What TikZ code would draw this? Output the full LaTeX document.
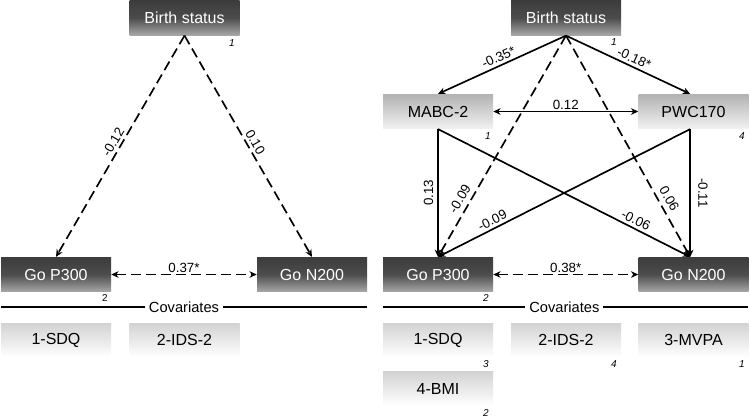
\documentclass[tikz,border=0pt]{standalone}
\usepackage{fontspec}
\setmainfont{Liberation Sans}
\usetikzlibrary{arrows.meta}
\definecolor{dkA}{HTML}{3C3C3C}
\definecolor{dkM}{HTML}{4C4C4C}
\definecolor{dkB}{HTML}{A8A8A8}
\definecolor{ltA}{HTML}{B2B2B2}
\definecolor{ltB}{HTML}{F2F2F2}
\definecolor{cvA}{HTML}{D2D2D2}
\definecolor{cvB}{HTML}{FFFFFF}
\begin{document}
\begin{tikzpicture}[x=0.75pt,y=-0.75pt,
  box/.style={minimum width=82.5pt,minimum height=26pt,inner sep=0pt,font=\fontsize{12}{14}\selectfont},
  dark/.style={box,text=white,shading=axis,top color=dkA,bottom color=dkB,middle color=dkM},
  light/.style={box,text=black,shading=axis,top color=ltA,bottom color=ltB},
  covbox/.style={box,text=black,minimum height=25.5pt,shading=axis,top color=cvA,bottom color=cvB},
  tip/.tip={Stealth[length=5.5pt,width=5pt]},
  arr/.style={line width=1.25pt,-tip},
  dsh/.style={arr,dash pattern=on 7.5pt off 3.75pt},
  both/.style={line width=1.25pt,tip-tip},
  lab/.style={font=\fontsize{10}{12}\selectfont,inner sep=2pt},
  num/.style={font=\fontsize{7.5}{9}\selectfont\itshape,inner sep=0pt},
  rule/.style={line width=1.25pt},
  covtxt/.style={font=\fontsize{11}{13}\selectfont,fill=white,inner sep=3pt}
]
\useasboundingbox (0,0) rectangle (750,418);

% ---------------- Left model ----------------
\node[dark] (bsL) at (184.5,18) {Birth status};
\node[dark] (p3L) at (56,274.5) {Go P300};
\node[dark] (n2L) at (312,274.5) {Go N200};
\node[covbox] (sdqL) at (56,340) {1-SDQ};
\node[covbox] (idsL) at (184.5,340) {2-IDS-2};
\node[num] (k1) at (232,43) {1};
\node[num,font=\fontsize{7.5}{9}\selectfont] (k2) at (105,298) {2};

\draw[dsh] (bsL.south) -- node[lab,sloped,above,pos=0.5] {-0.12} (p3L.north);
\draw[dsh] (bsL.south) -- node[lab,sloped,above,pos=0.5] {0.10} (n2L.north);
\draw[both,dash pattern=on 7.5pt off 3.75pt] (p3L.east) -- node[lab,above,inner sep=1pt] {0.37*} (n2L.west);

\coordinate (cl1) at (1,307);
\coordinate (cl2) at (367,307);
\draw[rule] (cl1) -- node[covtxt] (covL) {Covariates} (cl2);

% ---------------- Right model ----------------
\node[dark] (bsR) at (566,18) {Birth status};
\node[light] (mabc) at (438,111.5) {MABC-2};
\node[light] (pwc) at (693.5,111.5) {PWC170};
\node[dark] (p3R) at (438,274.5) {Go P300};
\node[dark] (n2R) at (693.5,274.5) {Go N200};
\node[covbox] (sdqR) at (438,340) {1-SDQ};
\node[covbox] (idsR) at (566,340) {2-IDS-2};
\node[covbox] (mvpa) at (693.5,340) {3-MVPA};
\node[covbox] (bmi) at (438,388.5) {4-BMI};

\node[num] (r1) at (614,42) {1};
\node[num] (r2) at (488,136) {1};
\node[num] (r3) at (742,136) {4};
\node[num] (r4) at (486,298) {2};
\node[num] (r5) at (486,364) {3};
\node[num] (r6) at (614,364) {4};
\node[num] (r7) at (742,364) {1};
\node[num] (r8) at (486,413) {2};

\draw[arr] (bsR.south) -- node[lab,sloped,above,pos=0.5] {-0.35*} (mabc.north);
\draw[arr] (bsR.south) -- node[lab,sloped,above,pos=0.52] {-0.18*} ([xshift=-2.5pt]pwc.north);
\draw[both] (mabc.east) -- node[lab,above,inner sep=1pt] {0.12} (pwc.west);

\draw[dsh] (bsR.south) -- node[lab,sloped,above,pos=0.76,inner sep=3.5pt] {-0.09} (p3R.north);
\draw[dsh] (bsR.south) -- node[lab,sloped,above,pos=0.76,inner sep=3.5pt] {0.06} ([xshift=-2.5pt]n2R.north);

\draw[arr] (mabc.south) -- node[lab,pos=0.5,rotate=90,anchor=south,inner sep=3pt] {0.13} (p3R.north);
\draw[arr] ([xshift=-2.5pt]pwc.south) -- node[lab,pos=0.5,rotate=-90,anchor=south,inner sep=5.5pt] {-0.11} ([xshift=-2.5pt]n2R.north);
\draw[arr] (mabc.south) -- node[lab,sloped,above,pos=0.77] {-0.06} ([xshift=-2.5pt]n2R.north);
\draw[arr] ([xshift=-2.5pt]pwc.south) -- node[lab,sloped,above,pos=0.77] {-0.09} (p3R.north);

\draw[both,dash pattern=on 7.5pt off 3.75pt] (p3R.east) -- node[lab,above,inner sep=1pt] {0.38*} (n2R.west);

\coordinate (cr1) at (383,307);
\coordinate (cr2) at (748,307);
\draw[rule] (cr1) -- node[covtxt,pos=0.497] (covR) {Covariates} (cr2);
\end{tikzpicture}
\end{document}
